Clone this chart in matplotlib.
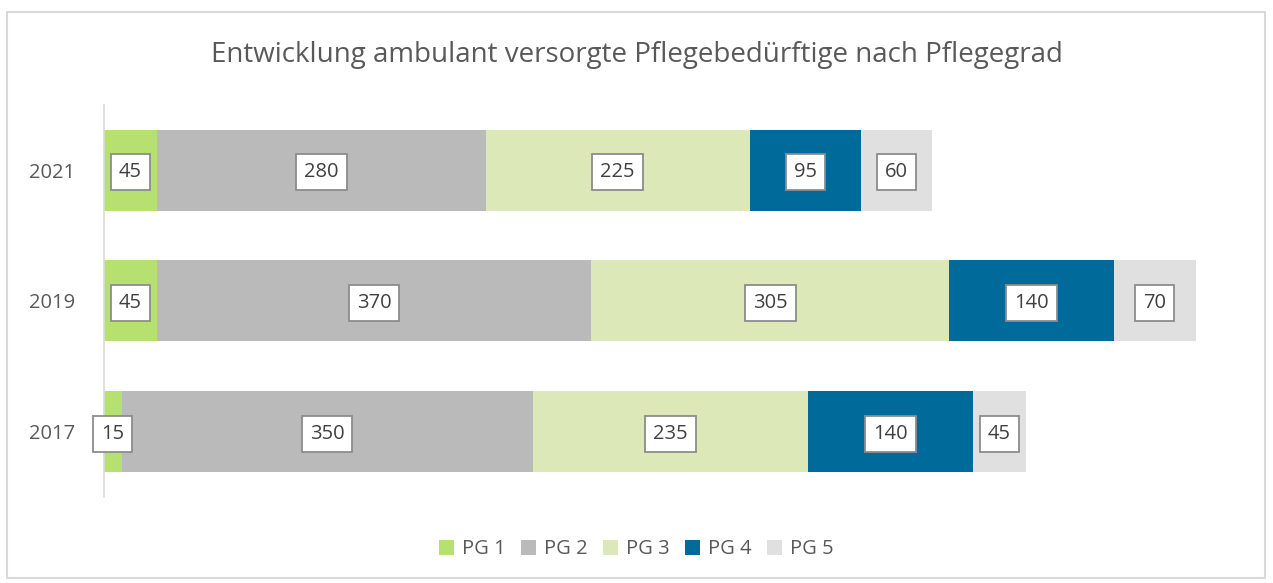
import matplotlib.pyplot as plt
from matplotlib.patches import Rectangle

years = ['2017', '2019', '2021']
groups = ['PG 1', 'PG 2', 'PG 3', 'PG 4', 'PG 5']
values = {
    'PG 1': [15, 45, 45],
    'PG 2': [350, 370, 280],
    'PG 3': [235, 305, 225],
    'PG 4': [140, 140, 95],
    'PG 5': [45, 70, 60],
}
colors = ['#b6e06f', '#bababa', '#dde8b8', '#006a9b', '#e0e0e0']

plt.rcParams['font.family'] = ['Open Sans', 'DejaVu Sans']


def plot_graph():
    fig = plt.figure(figsize=(12.73, 5.83), dpi=100)
    ax = fig.add_axes([0.0817, 0.1475, 0.89, 0.6725])

    left = [0, 0, 0]
    for g, c in zip(groups, colors):
        vals = values[g]
        ax.barh(range(len(years)), vals, left=left, height=0.62, color=c, label=g)
        for i, v in enumerate(vals):
            ax.text(left[i] + v / 2, i - 0.015, str(v), ha='center', va='center',
                    fontsize=14.5, color='#404040',
                    bbox=dict(boxstyle='square,pad=0.4', fc='white', ec='#8c8c8c', lw=1.3))
        left = [a + b for a, b in zip(left, vals)]

    ax.set_xlim(0, 965)
    ax.set_ylim(-0.5, 2.5)
    ax.set_yticks(range(len(years)))
    ax.set_yticklabels(years, fontsize=14.5, color='#595959')
    ax.tick_params(axis='y', length=0, pad=21)
    ax.set_xticks([])
    for s in ['top', 'right', 'bottom']:
        ax.spines[s].set_visible(False)
    ax.spines['left'].set_color('#d9d9d9')
    ax.spines['left'].set_linewidth(1.2)

    fig.suptitle('Entwicklung ambulant versorgte Pflegebedürftige nach Pflegegrad',
                 y=0.93, fontsize=20, color='#595959')
    fig.legend(loc='center', bbox_to_anchor=(0.5, 0.058), ncol=5, frameon=False,
               fontsize=14.5, labelcolor='#595959', handlelength=0.75, handleheight=0.75,
               handletextpad=0.4, columnspacing=0.75)

    fig.patches.append(Rectangle((7 / 1273, 5 / 583), 1258 / 1273, 566 / 583,
                                 transform=fig.transFigure, fill=False,
                                 ec='#d9d9d9', lw=1.5))
    fig.savefig('out.png', dpi=100)


if __name__ == "__main__":
    plot_graph()
